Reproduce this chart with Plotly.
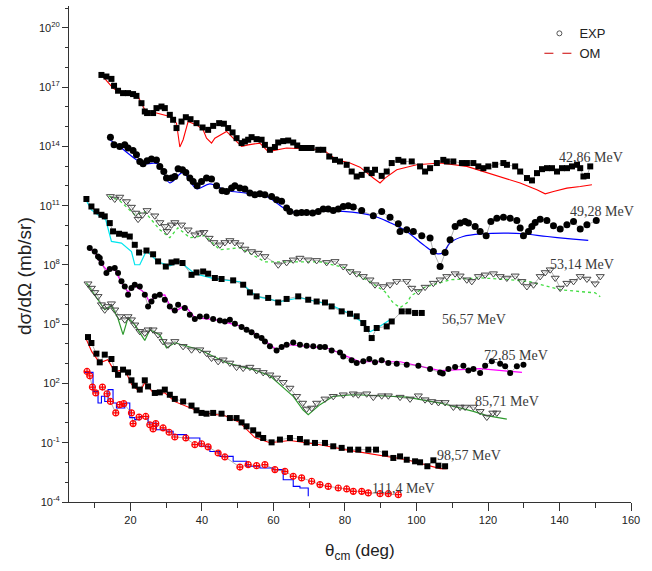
import numpy as np
import plotly.graph_objects as go

# ---------------- data (theta in deg, log10 of plotted dsigma/dOmega, offset per energy) -------------
energies = ["42,86 MeV", "49,28 MeV", "53,14 MeV", "56,57 MeV", "72,85 MeV", "85,71 MeV", "98,57 MeV", "111,4 MeV"]

exp_theta_4286 = [11.87, 13.27, 14.67, 15.40, 16.52, 17.92, 19.32, 20.72, 21.67, 23.07, 24.00, 24.64, 26.32, 27.27,
                  28.67, 29.60, 31.00, 31.92, 32.87, 34.27, 35.48, 36.79, 38.47, 40.15, 41.72, 43.12, 44.80, 46.12,
                  47.32, 48.55, 49.67, 51.07, 52.00, 52.92, 53.87, 55.27, 56.67, 57.60, 59.00, 60.40, 61.32, 62.72,
                  64.12, 65.52, 66.64, 67.87, 69.27, 70.67, 72.52, 73.92, 75.60, 77.20, 78.60, 80.47, 81.87, 83.27,
                  84.67, 86.07, 87.47, 88.40, 90.27, 91.67, 93.07, 94.92, 96.32, 98.67, 101.0, 102.4, 103.8, 105.7,
                  107.5, 108.5, 110.3, 112.7, 114.1, 115.9, 117.3, 118.7, 120.1, 122.0, 124.3, 125.3, 127.6, 129.0,
                  130.9, 132.3, 133.7, 135.1, 136.5, 137.9, 139.3, 140.7, 142.1, 143.5, 144.9, 145.8, 146.7, 147.7, 148.6]
exp_logsig_4286 = [17.62, 17.54, 17.42, 17.07, 16.82, 16.70, 16.70, 16.65, 16.56, 16.19, 15.77, 15.69, 15.69, 15.94,
                   16.02, 15.94, 15.60, 15.35, 14.93, 15.26, 15.48, 15.38, 15.18, 14.96, 14.84, 15.04, 15.18, 15.15,
                   14.93, 14.71, 14.42, 14.17, 14.25, 14.34, 14.47, 14.37, 14.34, 14.08, 13.83, 13.97, 14.20, 14.27,
                   14.30, 14.20, 14.05, 13.92, 13.92, 13.92, 13.83, 13.83, 13.49, 13.32, 13.24, 13.07, 12.73, 12.48,
                   12.56, 12.82, 12.65, 12.82, 12.51, 12.73, 13.16, 13.32, 13.24, 13.24, 12.99, 12.73, 12.90, 13.16,
                   13.32, 13.24, 13.24, 13.16, 13.16, 13.16, 12.99, 12.90, 12.99, 13.07, 13.16, 13.07, 12.99, 12.73,
                   12.40, 12.28, 12.65, 12.85, 12.90, 12.90, 12.73, 12.90, 12.90, 12.99, 13.07, 12.90, 12.48, 12.51, 12.99]
om_theta_4286 = [11.87, 15.12, 16.52, 22.12, 23.07, 24.47, 27.27, 31.00, 32.87, 33.80, 34.72, 36.12, 38.47, 40.32,
                 41.27, 42.67, 43.60, 46.87, 48.72, 51.07, 52.92, 56.20, 58.52, 63.67, 73.92, 77.67, 81.40, 84.20,
                 87.92, 89.80, 91.20, 94.47, 100.07, 106.6, 114.07, 118.72, 123.40, 129.0, 133.67, 136.0, 138.32,
                 142.07, 145.8, 149.07]
om_logsig_4286 = [17.62, 16.95, 16.78, 16.53, 16.19, 15.69, 15.69, 15.52, 15.18, 13.97, 14.34, 15.26, 15.09, 14.84,
                  14.42, 14.17, 14.42, 14.76, 14.42, 14.00, 14.08, 14.17, 13.74, 13.92, 13.83, 13.32, 13.16, 12.95,
                  12.40, 12.15, 12.40, 12.82, 13.07, 13.16, 12.99, 12.73, 12.48, 12.15, 11.81, 11.60, 11.72,
                  11.89, 11.97, 12.06]

exp_theta_4928 = [14.39, 15.40, 17.00, 18.40, 19.32, 20.72, 21.67, 22.60, 23.52, 24.64, 25.87, 27.27, 28.20, 29.32,
                  30.07, 31.47, 32.40, 33.32, 34.55, 35.48, 36.60, 37.52, 38.64, 39.87, 41.27, 42.67, 44.07, 45.64,
                  46.87, 48.27, 49.20, 50.60, 52.00, 53.40, 54.80, 56.20, 57.60, 59.47, 60.87, 62.27, 63.67, 64.60,
                  66.47, 67.87, 69.27, 70.95, 72.52, 73.92, 75.32, 76.72, 78.12, 79.52, 80.92, 82.32, 84.67, 87.92,
                  90.27, 92.60, 94.92, 95.40, 97.27, 99.12, 101.47, 103.80, 104.72, 106.60, 108.0, 109.40, 110.80,
                  112.20, 113.60, 114.52, 116.40, 117.80, 119.48, 120.80, 122.47, 124.32, 126.2, 128.07, 129.0,
                  129.92, 131.32, 132.27, 133.2, 134.6, 136.47, 138.32, 140.2, 142.07, 143.92, 145.8, 147.67, 150.28]
exp_logsig_4928 = [14.47, 14.08, 14.00, 14.08, 13.92, 13.79, 13.58, 13.24, 13.12, 13.27, 13.36, 13.32, 12.99, 12.73,
                   12.40, 12.40, 12.48, 12.87, 12.82, 12.68, 12.40, 12.23, 12.01, 12.23, 12.40, 12.35, 12.01, 11.76,
                   11.72, 11.89, 12.01, 11.89, 11.84, 11.64, 11.55, 11.60, 11.55, 11.47, 11.30, 11.22, 10.88, 10.71,
                   10.63, 10.66, 10.66, 10.63, 10.71, 10.83, 10.83, 10.76, 10.83, 10.96, 11.00, 10.93, 10.76, 10.49,
                   10.71, 10.42, 10.09, 9.70, 9.78, 9.70, 9.48, 9.36, 8.68, 7.92, 8.63, 9.28, 9.95,
                   10.12, 10.20, 10.12, 9.95, 9.70, 9.48, 10.20, 10.37, 10.42, 10.37, 10.25, 9.87,
                   9.48, 9.70, 9.95, 10.15, 10.32, 10.25, 9.98, 9.82, 10.03, 10.20, 9.82, 10.03, 10.25]
om_theta_4928 = [14.2, 17.0, 21.67, 23.44, 27.64, 31.0, 34.64, 38.47, 42.20, 46.87, 52.47, 58.07, 63.67, 67.40,
                 73.0, 79.44, 87.84, 92.6, 97.27, 101.92, 105.67, 107.44, 109.4, 113.04, 118.64, 125.27, 129.84,
                 136.56, 143.84, 148.04]
om_logsig_4928 = [14.34, 13.98, 13.32, 13.12, 13.12, 12.16, 12.67, 11.86, 12.11, 11.77, 11.64, 11.47, 10.79, 10.63,
                  10.71, 10.71, 10.49, 10.14, 9.70, 9.02, 8.57, 8.62, 9.12, 9.44, 9.58, 9.61, 9.58,
                  9.44, 9.31, 9.24]

exp_theta_5314 = [14.39, 15.60, 17.00, 18.87, 20.27, 21.48, 22.12, 23.35, 24.64, 26.80, 28.20, 29.60, 30.24, 31.47,
                  32.40, 34.27, 36.12, 38.00, 39.40, 40.52, 42.00, 43.32, 45.00, 46.40, 47.80, 49.20, 50.60, 52.00,
                  53.87, 55.72, 57.60, 61.32, 63.67, 65.52, 67.40, 69.72, 72.07, 74.87, 77.20, 79.52, 81.40, 83.27,
                  85.12, 87.00, 88.40, 90.72, 92.60, 94.47, 97.27, 98.67, 100.52, 102.4, 104.72, 106.6, 108.47,
                  110.8, 112.2, 114.07, 115.47, 117.32, 119.2, 121.52, 123.4, 125.27, 127.6, 129.47, 130.87, 132.72,
                  134.6, 136.0, 137.4, 138.8, 140.2, 142.07, 143.92, 145.8, 147.67, 150.0, 151.4]
exp_logsig_5314 = [11.47, 11.34, 11.44, 11.21, 10.93, 10.63, 10.32, 10.54, 10.76, 10.49, 10.15, 9.95, 9.70, 10.03,
                   10.15, 10.03, 9.78, 9.53, 9.62, 9.65, 9.36, 9.14, 9.02, 9.14, 9.24, 9.14, 9.02, 8.81,
                   8.68, 8.60, 8.43, 8.01, 8.13, 8.26, 8.35, 8.26, 8.23, 8.13, 8.18, 7.92, 7.67, 7.56,
                   7.42, 7.25, 7.00, 6.91, 7.00, 7.17, 7.17, 6.83, 6.66, 6.88, 7.08, 7.25, 7.42,
                   7.56, 7.45, 7.25, 7.17, 7.42, 7.50, 7.56, 7.42, 7.34, 7.45, 7.17, 6.91, 7.00,
                   7.42, 7.62, 7.76, 7.34, 6.83, 7.08, 7.17, 7.42, 7.29, 7.05, 7.42]
om_theta_5314 = [13.92, 17.0, 21.2, 24.0, 28.2, 31.0, 33.24, 36.6, 40.8, 45.0, 50.6, 57.6, 64.6, 73.0, 80.0, 87.0,
                 91.2, 93.44, 95.4, 97.36, 98.48, 102.4, 109.4, 117.8, 126.2, 131.8, 136.0, 140.2, 145.8, 150.0, 151.4]
om_logsig_5314 = [11.50, 11.25, 10.54, 10.69, 9.78, 9.38, 9.88, 9.38, 9.48, 8.77, 8.87, 8.16, 8.16, 8.16, 7.86, 7.15,
                  6.64, 6.09, 5.84, 6.09, 6.44, 6.88, 7.25, 7.35, 7.25, 7.15, 6.95, 6.75, 6.65, 6.59, 6.39]

exp_theta_5657 = [7.67, 9.07, 10.47, 11.87, 12.80, 14.20, 15.12, 16.80, 18.40, 19.80, 21.20, 22.40, 24.47, 26.32,
                  27.72, 29.88, 31.47, 32.87, 34.55, 37.07, 38.47, 40.32, 41.72, 43.60, 45.47, 48.72, 51.52, 53.40,
                  55.27, 58.52, 61.32, 63.67, 66.92, 69.72, 72.07, 74.40, 76.27, 79.07, 81.40, 83.27, 85.12, 86.07,
                  87.47, 88.87, 91.67, 93.07, 95.87, 97.72, 99.60, 101.47]
exp_logsig_5657 = [11.34, 10.96, 10.71, 10.54, 10.46, 10.12, 9.70, 9.58, 9.53, 9.44, 9.02, 8.63, 8.73, 8.54,
                   8.18, 7.92, 8.13, 8.18, 8.10, 7.50, 7.62, 7.67, 7.56, 7.34, 7.29, 7.22, 7.00, 6.61,
                   6.41, 6.33, 6.10, 6.28, 6.41, 6.24, 6.15, 6.10, 5.90, 5.65, 5.53, 5.40, 5.06, 4.76,
                   4.30, 4.81, 4.89, 5.14, 5.65, 5.65, 5.57, 5.57]
om_theta_5657 = [7.2, 9.07, 11.40, 13.08, 14.67, 17.47, 20.27, 21.2, 22.6, 24.47, 27.64, 31.0, 33.8, 38.0, 43.6,
                 50.6, 55.27, 61.8, 67.4, 75.8, 81.4, 85.04, 87.0, 88.68, 92.6]
om_logsig_5657 = [11.40, 10.79, 10.46, 10.29, 9.19, 9.11, 8.68, 8.01, 8.01, 8.72, 8.16, 7.96, 8.16, 7.56, 7.30,
                  7.15, 6.41, 6.14, 6.34, 5.99, 5.53, 5.08, 4.62, 4.77, 5.23]

exp_theta_7285 = [8.60, 10.00, 10.92, 11.40, 11.87, 13.27, 14.20, 15.60, 16.52, 17.47, 18.40, 19.32, 20.27, 21.20,
                  22.60, 24.00, 24.92, 25.87, 26.80, 28.20, 29.60, 31.00, 32.40, 33.32, 35.20, 36.60, 38.00, 39.40,
                  41.27, 43.12, 45.00, 46.40, 47.80, 49.20, 51.07, 52.47, 53.87, 55.27, 56.67, 57.60, 59.00, 60.87,
                  62.27, 63.67, 65.52, 67.40, 69.27, 71.12, 73.00, 74.40, 76.27, 78.60, 79.52, 81.87, 83.27, 85.12,
                  86.80, 88.40, 90.27, 92.12, 94.47, 97.27, 100.52, 103.80, 106.60, 107.35, 108.92, 110.80, 113.12,
                  114.52, 115.92, 117.80, 119.20, 121.07, 123.40, 124.80, 126.20, 128.07, 129.92]
exp_logsig_7285 = [8.86, 8.68, 8.43, 8.35, 8.10, 7.59, 7.79, 7.84, 7.59, 7.17, 6.91, 6.49, 6.83, 7.00,
                   6.91, 6.49, 5.90, 6.15, 6.41, 6.49, 6.24, 5.90, 5.70, 5.99, 5.82, 5.48, 5.26, 5.39,
                   5.39, 5.26, 5.19, 5.14, 5.23, 5.03, 4.86, 4.72, 4.59, 4.42, 4.30, 4.13, 3.88, 3.67,
                   3.85, 3.96, 4.08, 3.96, 3.91, 3.88, 3.85, 3.85, 3.67, 3.57, 3.37, 3.17, 3.04, 3.12,
                   3.24, 3.07, 3.17, 3.04, 3.00, 2.95, 2.90, 2.73, 2.56, 2.50, 2.73, 2.83, 2.90,
                   2.66, 2.73, 2.53, 2.90, 3.12, 3.00, 2.87, 2.53, 2.87, 2.95]
om_theta_7285 = [7.98, 10.0, 11.4, 13.27, 15.6, 17.47, 19.32, 21.2, 24.0, 25.4, 26.8, 29.6, 31.56, 33.24, 35.2,
                 38.0, 43.6, 50.6, 56.2, 60.87, 64.6, 75.8, 80.0, 84.2, 95.4, 106.6, 117.8, 129.5]
om_logsig_7285 = [8.87, 8.67, 8.16, 7.76, 7.76, 7.10, 6.64, 6.95, 6.59, 6.09, 6.44, 6.49, 5.73, 5.73, 5.94,
                  5.33, 5.23, 4.92, 4.37, 3.71, 3.96, 3.76, 3.41, 3.10, 3.10, 2.65, 2.75, 2.56]

exp_theta_8571 = [8.12, 9.07, 10.00, 10.92, 11.87, 12.80, 13.72, 14.67, 15.60, 17.00, 18.40, 19.32, 20.27, 21.20,
                  22.60, 24.00, 24.92, 26.32, 27.72, 29.12, 30.52, 32.40, 34.72, 37.07, 39.40, 41.27, 42.67, 44.52,
                  45.92, 47.80, 49.67, 51.52, 53.40, 55.27, 57.12, 59.00, 60.87, 62.72, 64.60, 66.47, 68.15, 69.27,
                  70.67, 72.07, 74.40, 76.72, 79.52, 82.32, 83.72, 86.07, 87.92, 90.27, 92.12, 95.40, 98.20, 100.52,
                  102.40, 104.27, 106.12, 108.0, 110.32, 112.2, 113.6, 115.92, 117.8, 119.67, 121.35, 122.47]
exp_logsig_8571 = [7.05, 6.83, 6.61, 6.41, 5.99, 5.73, 5.90, 6.04, 5.73, 5.39, 5.23, 5.39, 5.23, 4.97,
                   4.64, 4.56, 4.72, 4.72, 4.47, 4.13, 3.96, 4.13, 3.88, 3.71, 3.71, 3.54, 3.29, 3.12,
                   3.20, 3.04, 2.83, 2.78, 2.83, 2.66, 2.56, 2.44, 2.28, 2.06, 1.77, 1.35, 1.01, 0.71,
                   0.76, 1.01, 1.22, 1.35, 1.43, 1.48, 1.43, 1.48, 1.31, 1.38, 1.38, 1.31, 1.22, 1.38,
                   1.18, 1.09, 1.04, 1.04, 0.81, 0.81, 0.81, 0.81, 0.59, 0.30, 0.51, 0.51]
om_theta_8571 = [7.67, 11.87, 12.8, 14.67, 16.44, 17.92, 19.32, 21.2, 24.0, 25.4, 28.2, 30.07, 32.4, 39.4, 46.87,
                 54.32, 59.0, 65.52, 68.24, 69.72, 73.0, 76.72, 82.24, 89.8, 97.27, 106.6, 115.92, 119.67, 125.27]
om_logsig_8571 = [7.10, 5.99, 5.73, 5.94, 5.33, 4.47, 5.33, 4.97, 4.18, 4.72, 4.47, 3.80, 4.06, 3.71, 3.05,
                  2.70, 2.39, 1.35, 0.67, 0.42, 0.93, 1.35, 1.43, 1.38, 1.31, 1.01, 0.59, 0.37, 0.20]

exp_theta_9857 = [8.12, 9.07, 10.47, 11.40, 12.80, 14.67, 15.60, 16.52, 17.92, 19.32, 20.27, 21.20, 22.60, 24.00,
                  24.92, 26.80, 28.20, 29.60, 31.00, 32.40, 34.72, 37.07, 38.47, 39.87, 41.27, 43.12, 45.47, 47.80,
                  49.67, 51.07, 52.47, 54.32, 55.72, 57.12, 59.47, 61.80, 64.60, 67.40, 69.27, 71.60, 74.40, 76.72,
                  79.07, 81.40, 83.72, 86.52, 88.68, 91.20, 93.52, 95.40, 97.27, 99.60, 101.0, 103.04, 104.72,
                  106.12, 108.0]
exp_logsig_9857 = [4.35, 4.05, 3.51, 3.07, 3.46, 3.24, 2.73, 2.44, 2.70, 2.56, 2.16, 1.89, 1.69, 2.16,
                   1.85, 1.52, 1.55, 1.69, 1.43, 1.22, 1.09, 0.88, 0.64, 0.51, 0.47, 0.51, 0.47, 0.25,
                   0.25, 0.03, -0.17, -0.37, -0.59, -0.76, -0.98, -0.84, -0.76, -0.81, -0.98, -1.01, -1.01, -1.18,
                   -1.26, -1.35, -1.35, -1.35, -1.35, -1.55, -1.77, -1.69, -1.86, -1.94, -1.99, -2.19, -1.89,
                   -2.16, -2.19]
om_theta_9857 = [7.67, 9.16, 11.4, 13.64, 15.6, 18.4, 20.36, 22.6, 24.0, 26.8, 29.6, 32.4, 38.0, 42.2, 46.4, 50.6,
                 54.8, 59.0, 64.6, 73.0, 80.0, 87.92, 97.27, 106.6, 108.47]
om_logsig_9857 = [4.22, 3.61, 3.05, 3.20, 2.60, 2.70, 1.94, 1.58, 2.04, 1.43, 1.53, 1.08, 0.67, 0.47, 0.37, 0.02,
                  -0.74, -1.00, -0.89, -1.10, -1.35, -1.60, -1.86, -2.31, -2.31]

exp_theta_1114 = [7.84, 8.60, 9.35, 10.28, 12.15, 13.44, 14.39, 15.88, 17.00, 18.12, 20.27, 20.72, 22.40, 24.28,
                  25.40, 26.32, 27.08, 29.12, 30.80, 32.40, 35.48, 38.00, 39.87, 41.72, 44.52, 46.40, 50.60, 52.92,
                  55.27, 57.60, 60.40, 63.20, 65.52, 67.87, 70.67, 73.00, 75.32, 78.12, 80.47, 82.32, 84.67, 86.52,
                  89.80, 92.12, 94.92]
exp_logsig_1114 = [2.61, 2.39, 1.82, 1.52, 1.82, 1.48, 1.09, 0.51, 0.93, 0.98, 0.51, -0.03, 0.30, 0.33,
                   -0.09, -0.30, -0.03, -0.25, -0.47, -0.71, -0.76, -1.10, -1.05, -1.21, -1.52, -1.72, -2.23, -2.11,
                   -2.16, -2.11, -2.36, -2.45, -2.70, -2.78, -2.95, -3.12, -3.21, -3.29, -3.34, -3.46, -3.46, -3.54,
                   -3.58, -3.58, -3.63]
om_theta_1114 = [7.20, 9.52, 10.92, 11.87, 12.8, 13.72, 15.12, 16.07, 18.4, 19.8, 21.2, 22.6, 24.92, 27.27, 30.07,
                 31.92, 35.67, 39.4, 42.2, 44.07, 45.0, 48.72, 52.47, 56.2, 59.92, 62.72, 65.52, 67.4, 69.72]
om_logsig_1114 = [2.56, 1.60, 1.01, 1.35, 1.09, 1.69, 1.01, 0.76, 1.01, 0.27, 0.17, 0.33, 0.00, -0.34, -0.42,
                  -0.59, -0.76, -1.18, -1.44, -1.44, -1.69, -1.94, -2.19, -2.28, -2.36, -2.87, -3.21, -3.29, -3.71]

label_theta = [139.3, 142.4, 136.8, 106.6, 118.3, 115.8, 105.2, 87.0]
label_logsig = [13.43, 10.71, 8.01, 5.23, 3.41, 1.09, -1.65, -3.32]

ytick_exp = [-4, -1, 2, 5, 8, 11, 14, 17, 20]
xtick_vals = [20, 40, 60, 80, 100, 120, 140, 160]

# ---------------- styles ----------------
series = [
    (exp_theta_4286, exp_logsig_4286, om_theta_4286, om_logsig_4286,
     dict(symbol="square", size=6, color="black"), dict(color="#ff0000", width=1.1), "linear"),
    (exp_theta_4928, exp_logsig_4928, om_theta_4928, om_logsig_4928,
     dict(symbol="circle", size=7, color="black"), dict(color="#0000ff", width=1.2), "spline"),
    (exp_theta_5314, exp_logsig_5314, om_theta_5314, om_logsig_5314,
     dict(symbol="triangle-down-open", size=7, color="#444444", line=dict(width=1)),
     dict(color="#44dd44", width=1.3, dash="dot"), "linear"),
    (exp_theta_5657, exp_logsig_5657, om_theta_5657, om_logsig_5657,
     dict(symbol="square", size=6, color="black"), dict(color="#00e5ee", width=1.2), "linear"),
    (exp_theta_7285, exp_logsig_7285, om_theta_7285, om_logsig_7285,
     dict(symbol="circle", size=6, color="black"), dict(color="#ff00ff", width=1.2), "linear"),
    (exp_theta_8571, exp_logsig_8571, om_theta_8571, om_logsig_8571,
     dict(symbol="triangle-down-open", size=7, color="#444444", line=dict(width=1)),
     dict(color="#2e9a2e", width=1.2), "linear"),
    (exp_theta_9857, exp_logsig_9857, om_theta_9857, om_logsig_9857,
     dict(symbol="square", size=6, color="black"), dict(color="#ff0000", width=1.1), "linear"),
    (exp_theta_1114, exp_logsig_1114, om_theta_1114, om_logsig_1114,
     dict(symbol="circle-cross-open", size=6, color="#ff0000", line=dict(width=1.2)),
     dict(color="#0000ff", width=1.1), "hv"),
]

fig = go.Figure()

for ex, ey, ox, oy, mk, ln, shape in series:
    fig.add_trace(go.Scatter(x=ox, y=np.power(10.0, oy), mode="lines", line=dict(shape=shape, **ln),
                             showlegend=False, hoverinfo="skip"))
for ex, ey, ox, oy, mk, ln, shape in series:
    fig.add_trace(go.Scatter(x=ex, y=np.power(10.0, ey), mode="lines+markers",
                             line=dict(color="rgba(70,70,70,0.6)", width=0.7),
                             marker=mk, showlegend=False))

# legend entries
fig.add_trace(go.Scatter(x=[None], y=[None], mode="markers", name="EXP",
                         marker=dict(symbol="circle-open", size=5, color="#555555")))
fig.add_trace(go.Scatter(x=[None], y=[None], mode="lines", name="OM",
                         line=dict(color="#cc0000", width=1, dash="dash")))

for txt, lx, ly in zip(energies, label_theta, label_logsig):
    fig.add_annotation(x=lx, y=ly, xref="x", yref="y", text=txt, showarrow=False,
                       xanchor="left", yanchor="middle",
                       font=dict(family="Liberation Serif", size=14, color="#3a3a3a"))

fig.add_annotation(xref="paper", yref="paper", x=-0.101, y=0.455, text="dσ/dΩ (mb/sr)",
                   textangle=-90, showarrow=False, font=dict(family="Liberation Sans", size=19, color="#222"))
fig.add_annotation(xref="paper", yref="paper", x=0.518, y=-0.127, text="θ<sub>cm</sub> (deg)",
                   showarrow=False, font=dict(family="Liberation Sans", size=17, color="#222"))

fig.update_layout(
    width=652, height=571,
    margin=dict(l=69, r=21, t=6, b=69),
    plot_bgcolor="white", paper_bgcolor="white",
    font=dict(family="Liberation Sans", size=11, color="#222"),
    legend=dict(x=0.837, y=0.975, xanchor="left", yanchor="top", bgcolor="rgba(0,0,0,0)",
                font=dict(family="Liberation Sans", size=13, color="#222")),
    xaxis=dict(range=[2.8, 160], showgrid=False, zeroline=False, showline=True, linecolor="#333",
               linewidth=1, ticks="outside", ticklen=8, tickcolor="#333", tickvals=xtick_vals,
               minor=dict(dtick=10, tick0=0, ticks="outside", ticklen=5, tickcolor="#333")),
    yaxis=dict(type="log", range=[-4, 21.11], showgrid=False, zeroline=False, showline=True,
               linecolor="#333", linewidth=1, ticks="outside", ticklen=6, tickcolor="#333",
               tickvals=[10.0 ** k for k in ytick_exp],
               ticktext=["10<sup>%d</sup>" % k for k in ytick_exp],
               minor=dict(tickvals=[10.0 ** k for k in range(-4, 22)], ticks="outside", ticklen=3,
                          tickcolor="#333")),
)

fig.write_html("out.html", config={"displayModeBar": False},
               post_script="document.body.style.margin='0px';document.body.style.padding='0px';")
